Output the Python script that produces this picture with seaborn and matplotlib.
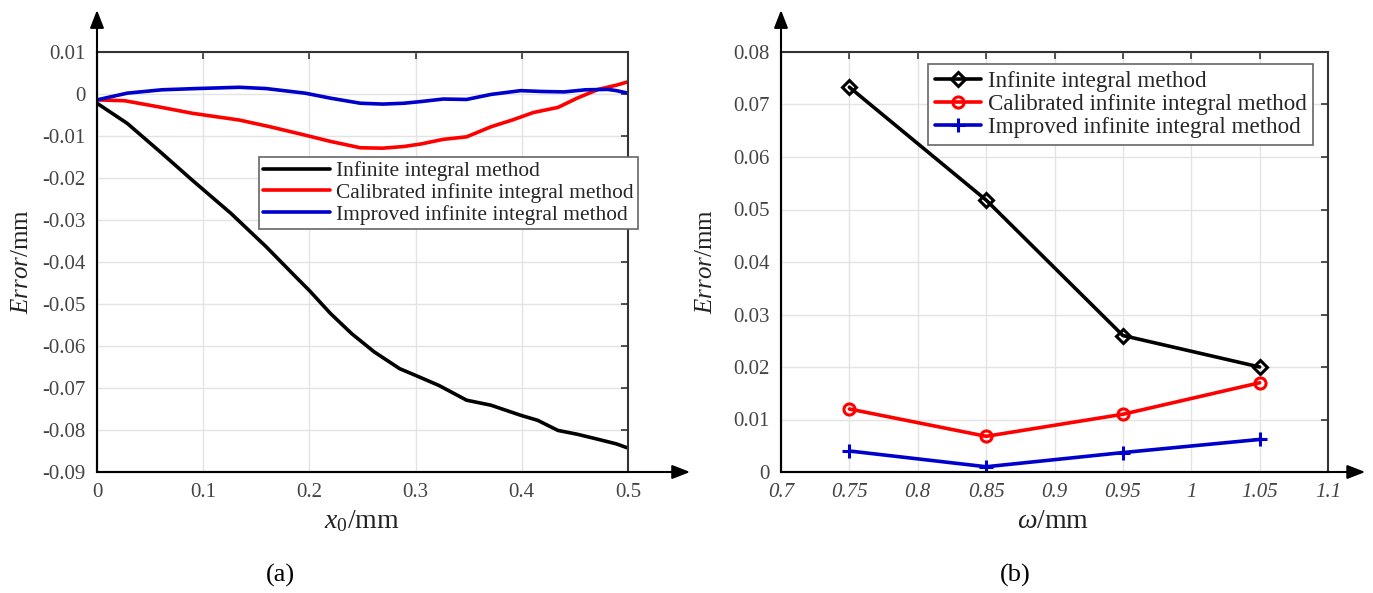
import numpy as np
import pandas as pd
import matplotlib
matplotlib.use("Agg")
import matplotlib.pyplot as plt
import seaborn as sns

# ---------------- data (a) ----------------
inf_x = [0, 0.0285, 0.061, 0.0896, 0.126, 0.159, 0.187, 0.2, 0.22, 0.24, 0.261, 0.285, 0.3,
         0.322, 0.348, 0.371, 0.399, 0.415, 0.434, 0.452, 0.47, 0.489, 0.5]
inf_y = [-0.0022, -0.007, -0.0141, -0.0205, -0.0284, -0.0363, -0.0435, -0.0468, -0.0523, -0.0571,
         -0.0614, -0.0654, -0.067, -0.0694, -0.0729, -0.0741, -0.0765, -0.0777, -0.0801, -0.081,
         -0.0821, -0.0833, -0.0843]
cal_x = [0, 0.026, 0.061, 0.09, 0.134, 0.163, 0.196, 0.22, 0.248, 0.269, 0.289, 0.305, 0.326,
         0.348, 0.371, 0.391, 0.411, 0.434, 0.452, 0.472, 0.489, 0.5]
cal_y = [-0.0014, -0.0016, -0.0032, -0.0046, -0.0062, -0.0078, -0.0098, -0.0113, -0.0128, -0.0129,
         -0.0125, -0.0119, -0.0108, -0.0102, -0.0078, -0.0062, -0.0044, -0.0032, -0.001, 0.0011,
         0.0021, 0.0029]
imp_x = [0, 0.0285, 0.061, 0.094, 0.134, 0.159, 0.196, 0.22, 0.248, 0.269, 0.289, 0.305, 0.326,
         0.348, 0.371, 0.399, 0.419, 0.44, 0.46, 0.481, 0.489, 0.5]
imp_y = [-0.0014, 0.0002, 0.001, 0.0013, 0.0016, 0.0013, 0.0002, -0.001, -0.0022, -0.0024, -0.0022,
         -0.0018, -0.0012, -0.0013, -0.0001, 0.0008, 0.0006, 0.0005, 0.001, 0.0011, 0.0008, 0.0002]

# ---------------- data (b) ----------------
omega = [0.75, 0.85, 0.95, 1.05]
inf_b = [0.0733, 0.0518, 0.026, 0.020]
cal_b = [0.012, 0.0068, 0.011, 0.017]
imp_b = [0.004, 0.001, 0.0037, 0.0062]

labels = ["Infinite integral method", "Calibrated infinite integral method",
          "Improved infinite integral method"]
colors = ["#000000", "#ff0000", "#0000cc"]

a_xticks = [0, 0.1, 0.2, 0.3, 0.4, 0.5]
a_xticklabels = ["0", "0.1", "0.2", "0.3", "0.4", "0.5"]
a_yticks = [0.01, 0, -0.01, -0.02, -0.03, -0.04, -0.05, -0.06, -0.07, -0.08, -0.09]
a_yticklabels = ["0.01", "0", "-0.01", "-0.02", "-0.03", "-0.04", "-0.05", "-0.06", "-0.07", "-0.08", "-0.09"]
b_xticks = [0.7, 0.75, 0.8, 0.85, 0.9, 0.95, 1.0, 1.05, 1.1]
b_xticklabels = ["0.7", "0.75", "0.8", "0.85", "0.9", "0.95", "1", "1.05", "1.1"]
b_yticks = [0, 0.01, 0.02, 0.03, 0.04, 0.05, 0.06, 0.07, 0.08]
b_yticklabels = ["0", "0.01", "0.02", "0.03", "0.04", "0.05", "0.06", "0.07", "0.08"]

sns.set_theme(style="white")
plt.rcParams['font.family'] = ['Liberation Serif', 'DejaVu Serif']
plt.rcParams['mathtext.fontset'] = 'custom'
plt.rcParams['mathtext.rm'] = 'Liberation Serif'
plt.rcParams['mathtext.it'] = 'Liberation Serif:italic'

fig = plt.figure(figsize=(13.73, 5.93), dpi=100)
axA = fig.add_axes([97/1373, 1-472/593, 531/1373, 420/593])
axB = fig.add_axes([781/1373, 1-472/593, 547/1373, 420/593])

dfA = pd.concat([
    pd.DataFrame({"x": inf_x, "y": inf_y, "m": labels[0]}),
    pd.DataFrame({"x": cal_x, "y": cal_y, "m": labels[1]}),
    pd.DataFrame({"x": imp_x, "y": imp_y, "m": labels[2]}),
])
sns.lineplot(data=dfA, x="x", y="y", hue="m", palette=dict(zip(labels, colors)),
             estimator=None, sort=False, lw=2.6, ax=axA, legend=False)

markers = ["D", "o", "+"]
msizes = [7, 8, 10]
for vals, lab, c, mk, ms in zip([inf_b, cal_b, imp_b], labels, colors, markers, msizes):
    sns.lineplot(x=omega, y=vals, color=c, lw=2.6, marker=mk, markersize=ms,
                 markerfacecolor='none', markeredgecolor=c, markeredgewidth=2.2,
                 ax=axB, label=lab, legend=False)

def style(ax, xt, xtl, yt, ytl, xlim, ylim, italic_x=False):
    ax.set_xlim(*xlim)
    ax.set_ylim(*ylim)
    ax.set_xticks(xt)
    ax.set_xticklabels(xtl, fontsize=15, color="#444444", style="italic" if italic_x else "normal")
    ax.set_yticks(yt)
    ax.set_yticklabels(ytl, fontsize=15, color="#444444")
    ax.grid(True, color="#e3e3e3", lw=1.0)
    ax.tick_params(direction="in", length=5, width=1.2, top=True, right=True, color="#333333",
                   pad=8)
    for s in ["top", "right"]:
        ax.spines[s].set_color("#333333")
        ax.spines[s].set_linewidth(1.5)
    for s in ["left", "bottom"]:
        ax.spines[s].set_color("#222222")
        ax.spines[s].set_linewidth(1.5)
    ax.set_xlabel("")
    ax.set_ylabel("")

style(axA, a_xticks, a_xticklabels, a_yticks, a_yticklabels, (0, 0.5), (-0.09, 0.01))
style(axB, b_xticks, b_xticklabels, b_yticks, b_yticklabels, (0.7, 1.1), (0, 0.08), italic_x=True)

# arrows
for ax, xe in [(axA, 1.117), (axB, 1.068)]:
    ax.annotate("", xy=(0, 1.10), xytext=(0, 0), xycoords="axes fraction",
                arrowprops=dict(arrowstyle="-|>,head_length=0.9,head_width=0.35", color="black",
                                lw=1.5, shrinkA=0, shrinkB=0), annotation_clip=False)
    ax.annotate("", xy=(xe, 0), xytext=(0, 0), xycoords="axes fraction",
                arrowprops=dict(arrowstyle="-|>,head_length=0.9,head_width=0.35", color="black",
                                lw=1.5, shrinkA=0, shrinkB=0), annotation_clip=False)

# legends
hA = axA.get_lines()[:3]
legA = axA.legend(hA, labels, loc="upper left", bbox_to_anchor=(0.305, 0.75), fontsize=15.4,
                  frameon=True, fancybox=False, edgecolor="#666666", framealpha=1,
                  handlelength=3.1, handletextpad=0.3, borderpad=0.2, labelspacing=0.08,
                  borderaxespad=0)
legA.get_frame().set_linewidth(1.2)
hB = axB.get_lines()[:3]
legB = axB.legend(hB, labels, loc="upper left", bbox_to_anchor=(0.268, 0.972), fontsize=16.6,
                  frameon=True, fancybox=False, edgecolor="#666666", framealpha=1,
                  handlelength=2.0, handletextpad=0.3, borderpad=0.3, labelspacing=0.08,
                  borderaxespad=0)
legB.get_frame().set_linewidth(1.2)

# axis labels
fig.text(362/1373, 1-521/593, r"$x_0$/mm", fontsize=20, ha="center", va="center", color="#222222")
fig.text(1053/1373, 1-521/593, r"$\omega$/mm", fontsize=20, ha="center", va="center", color="#222222")
fig.text(22/1373, 1-262/593, r"$\mathit{Error}$/mm", fontsize=18, rotation=90, ha="center",
         va="center", color="#222222")
fig.text(706/1373, 1-262/593, r"$\mathit{Error}$/mm", fontsize=18, rotation=90, ha="center",
         va="center", color="#222222")
fig.text(280/1373, 1-575/593, "(a)", fontsize=19, ha="center", va="center", color="black")
fig.text(1015/1373, 1-575/593, "(b)", fontsize=19, ha="center", va="center", color="black")

fig.savefig("out.png", dpi=100)
